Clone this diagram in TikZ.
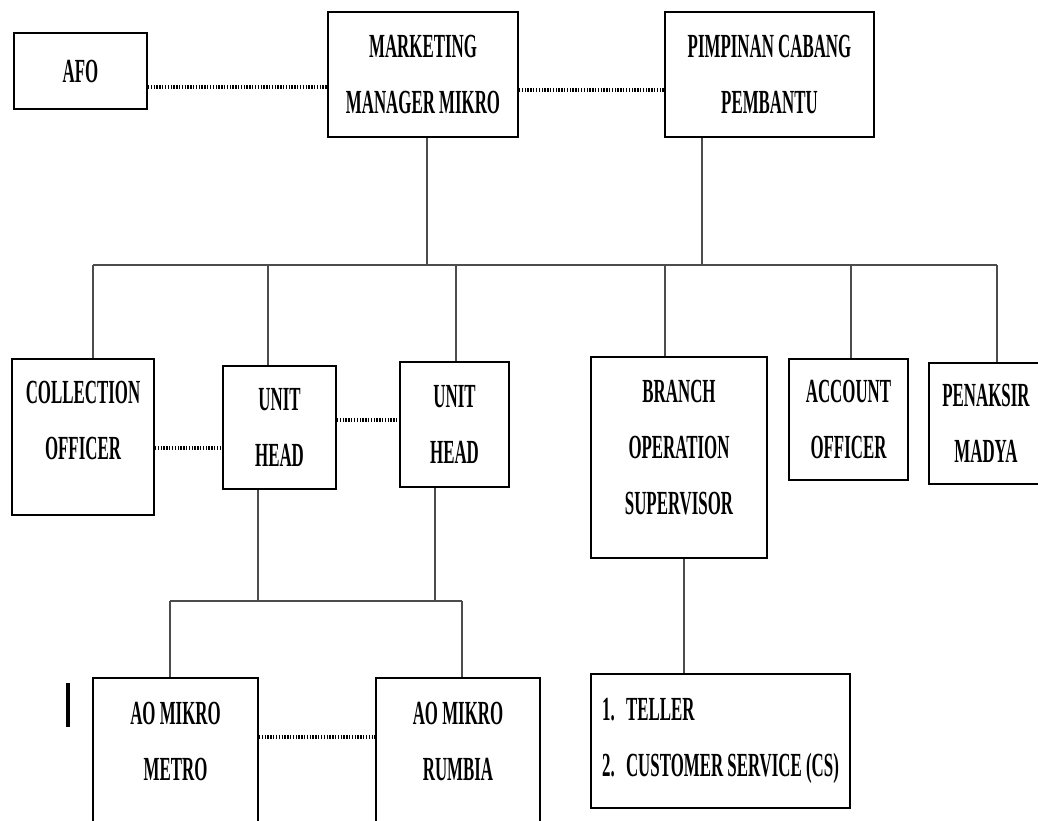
\documentclass[tikz,border=0pt]{standalone}
\usepackage{fontspec}
\setmainfont{Liberation Serif}[FakeStretch=0.5]
\usepackage{tikz}

\tikzset{
	unit/.style={draw, line width=1.4pt, align=center, inner sep=0pt,
		font=\fontsize{24pt}{39.8pt}\selectfont\bfseries},
	conn/.style={draw=black!70, line width=1.3pt},
	dotline/.style={draw=black, line width=3.2pt, dash pattern=on 1pt off 1pt}
}

\begin{document}
\begin{tikzpicture}[x=0.025cm, y=-0.025cm]
	\useasboundingbox (0,0) rectangle (1038,821);
	\clip (0,0) rectangle (1038,821);
	\node[unit, minimum width=3.325cm, minimum height=1.9cm] (afo) at (80.5,71) {AFO};
	\node[unit, minimum width=4.75cm, minimum height=3.125cm] (mmm) at (423,74.5) {MARKETING\\MANAGER MIKRO};
	\node[unit, minimum width=5.225cm, minimum height=3.125cm] (pcp) at (769.5,74.5) {PIMPINAN CABANG\\PEMBANTU};
	\node[unit, minimum width=3.55cm, minimum height=3.9cm, text depth=0.85cm] (co) at (83,437) {COLLECTION\\OFFICER};
	\node[unit, minimum width=2.825cm, minimum height=3.075cm] (uha) at (279.5,427.5) {UNIT\\HEAD};
	\node[unit, minimum width=2.725cm, minimum height=3.125cm] (uhb) at (454.5,424.5) {UNIT\\HEAD};
	\node[unit, minimum width=4.4cm, minimum height=5.025cm, text depth=0.5cm] (bos) at (679,457.5) {BRANCH\\OPERATION\\SUPERVISOR};
	\node[unit, minimum width=2.975cm, minimum height=3.025cm] (ao) at (848.5,419.5) {ACCOUNT\\OFFICER};
	\node[unit, minimum width=2.85cm, minimum height=3.025cm] (pnk) at (986,423.5) {PENAKSIR\\MADYA};
	\node[unit, minimum width=4.125cm, minimum height=4.55cm, text depth=1.4cm] (aom) at (175.5,769) {AO MIKRO\\METRO};
	\node[unit, minimum width=4.1cm, minimum height=4.55cm, text depth=1.4cm] (aor) at (458,769) {AO MIKRO\\RUMBIA};
	\node[unit, align=left, minimum width=6.475cm, minimum height=3.35cm] (tel) at (720.5,741) {\makebox[0.6cm][l]{1.}TELLER\\\makebox[0.6cm][l]{2.}CUSTOMER SERVICE (CS)};
	\draw[dotline] ([yshift=-0.4cm]afo.east) -- ([yshift=-0.4cm]afo.east -| mmm.west);
	\draw[dotline] ([yshift=-0.39cm]mmm.east) -- ([yshift=-0.39cm]mmm.east -| pcp.west);
	\draw[dotline] ([yshift=-0.275cm]co.east) -- ([yshift=-0.275cm]co.east -| uha.west);
	\draw[dotline] ([yshift=0.19cm]uha.east) -- ([yshift=0.19cm]uha.east -| uhb.west);
	\draw[dotline] ([yshift=0.8cm]aom.east) -- ([yshift=0.8cm]aom.east -| aor.west);
	\coordinate (busL) at (93,265);
	\coordinate (busR) at (997,265);
	\draw[conn] (busL) -- (busR);
	\draw[conn] ([xshift=0.1cm]mmm.south) -- ([xshift=0.1cm]mmm.south |- busL);
	\draw[conn] ([xshift=-1.69cm]pcp.south) -- ([xshift=-1.69cm]pcp.south |- busL);
	\foreach \x/\nm in {93/co,268/uha,456/uhb,665/bos,851/ao,997/pnk}
		\draw[conn] (\x,265) -- (\x,265 |- \nm.north);
	\coordinate (lowL) at (170,601);
	\coordinate (lowR) at (462,601);
	\draw[conn] (lowL) -- (lowR);
	\draw[conn] ([xshift=-0.5375cm]uha.south) -- ([xshift=-0.5375cm]uha.south |- lowL);
	\draw[conn] ([xshift=-0.4875cm]uhb.south) -- ([xshift=-0.4875cm]uhb.south |- lowL);
	\draw[conn] (lowL) -- (lowL |- aom.north);
	\draw[conn] (lowR) -- (lowR |- aor.north);
	\draw[conn] ([xshift=0.125cm]bos.south) -- ([xshift=0.125cm]bos.south |- tel.north);
	\draw[line width=3pt] (68,683) -- (68,727);
\end{tikzpicture}
\end{document}
